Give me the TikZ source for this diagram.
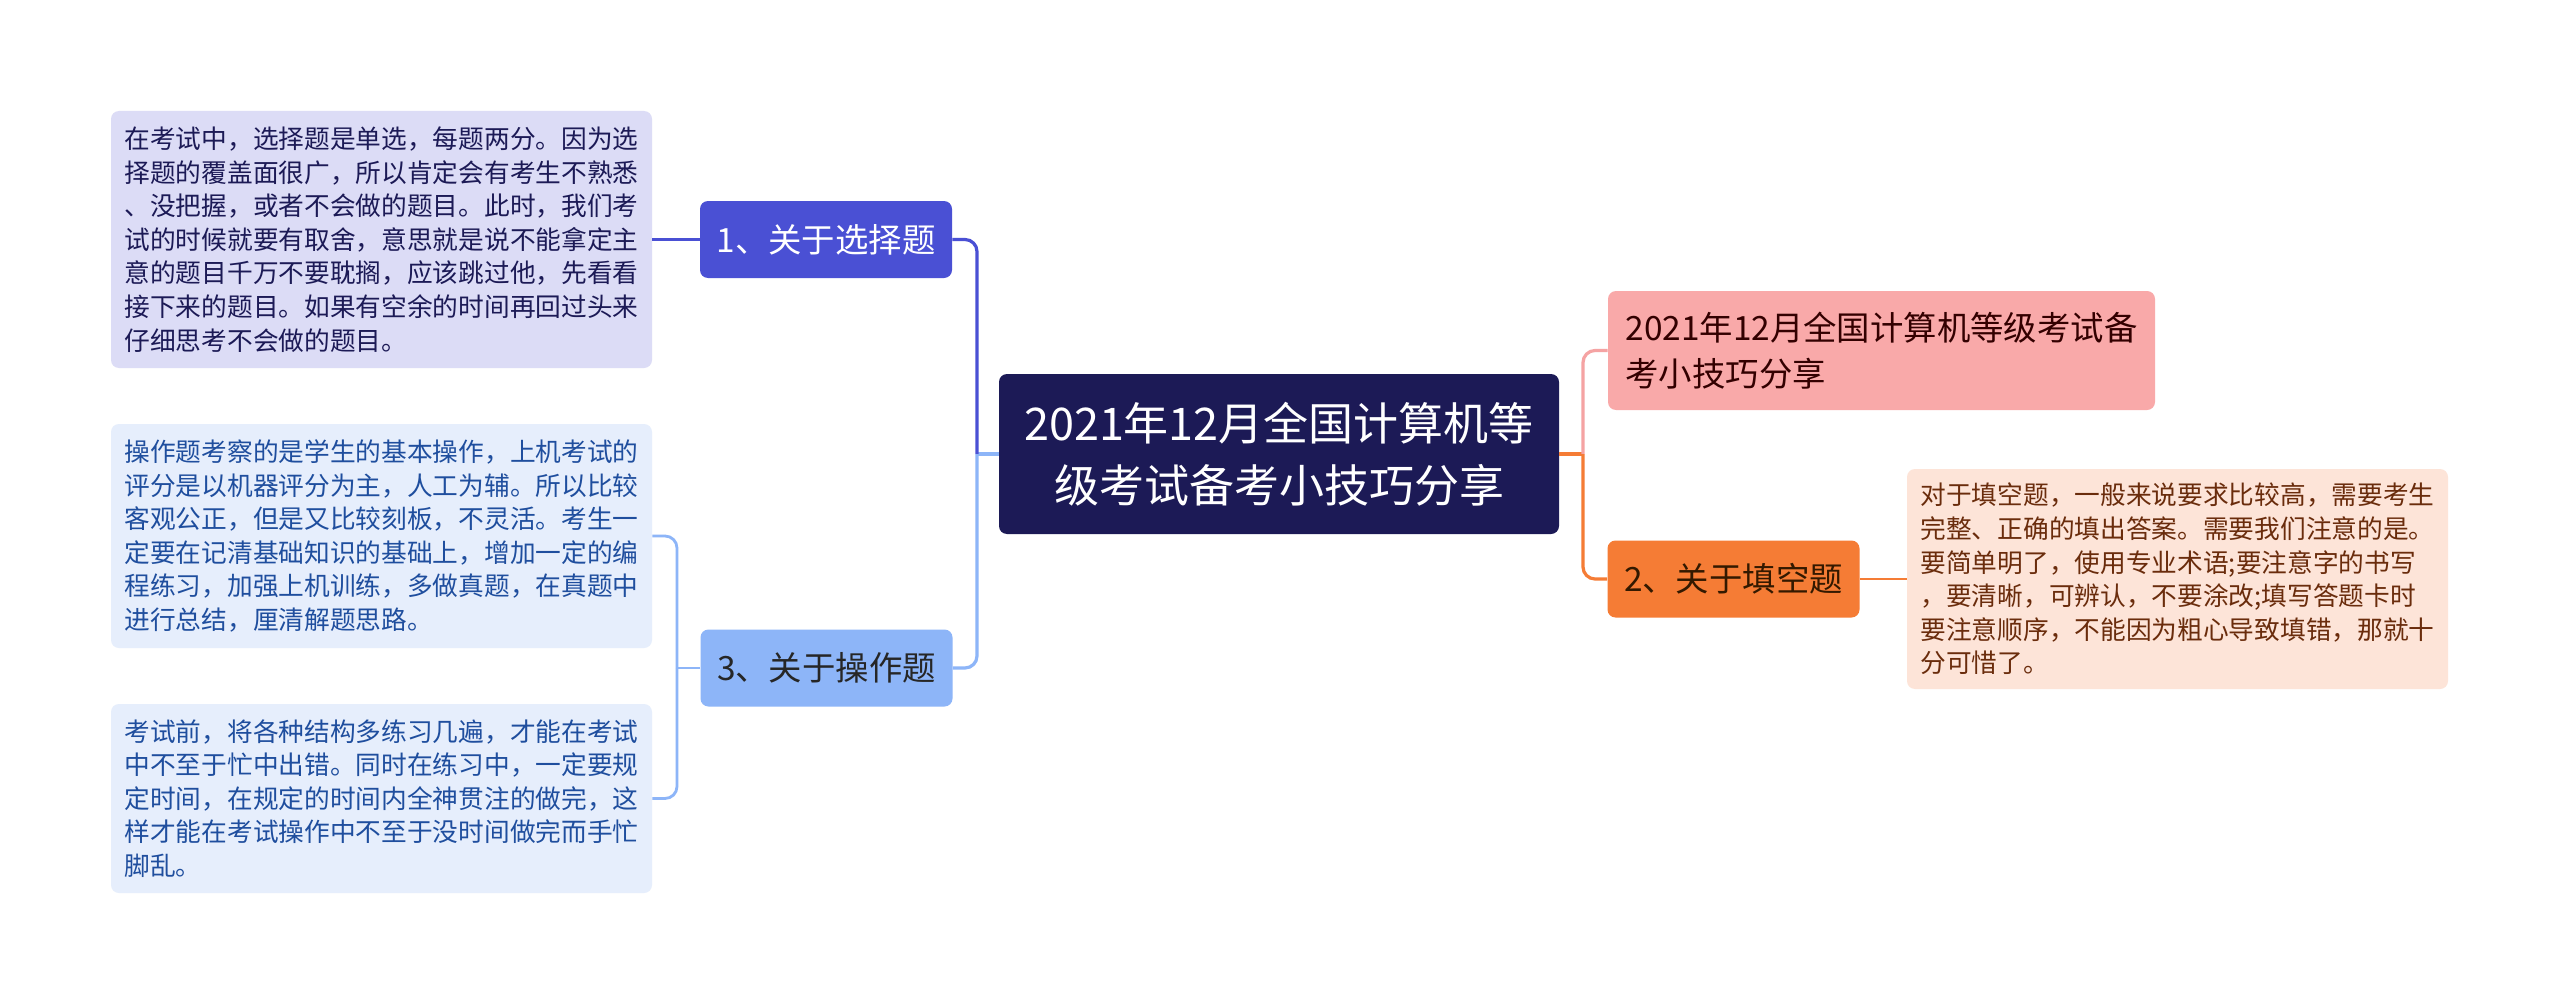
\documentclass[tikz,border=0pt]{standalone}
\usepackage{fontspec}
\usepackage{tikz}

\newfontfamily\cjk{Noto Sans CJK SC}

\definecolor{navy}{HTML}{1C1A56}
\definecolor{indigo}{HTML}{4A50D4}
\definecolor{lavender}{HTML}{DCDCF6}
\definecolor{skyblue}{HTML}{8DB5F8}
\definecolor{paleblue}{HTML}{E6EEFC}
\definecolor{inkblue}{HTML}{1F4E9E}
\definecolor{rose}{HTML}{F9A9A9}
\definecolor{roseline}{HTML}{F5A3A3}
\definecolor{tangerine}{HTML}{F57C35}
\definecolor{peach}{HTML}{FDE4D8}
\definecolor{rust}{HTML}{6A2C0C}

\begin{document}
\begin{tikzpicture}[x=0.5pt, y=-0.5pt,
    box/.style={rounded corners=4pt, inner sep=0pt},
    topic/.style={box, minimum width=126pt, minimum height=38.5pt,
        font={\cjk\fontsize{16.7pt}{23pt}\selectfont}},
    detail/.style={box, align=left, text width=257pt, minimum width=270.5pt,
        font={\cjk\fontsize{12.85pt}{16.8pt}\selectfont}},
    link/.style={line width=1.6pt, rounded corners=6pt},
    sublink/.style={line width=1.4pt, rounded corners=6pt}]

    \useasboundingbox[fill=white] (0,0) rectangle (2560,1006);

    % Mitte
    \node[box, fill=navy, text=white, align=center, minimum width=280pt, minimum height=80pt,
        font={\cjk\fontsize{22.5pt}{31pt}\selectfont}] (c) at (1279,454)
        {2021年12月全国计算机等\\级考试备考小技巧分享};

    % linke Seite
    \node[topic, fill=indigo, text=white] (n1) at (826,239.5) {1、关于选择题};
    \node[topic, fill=skyblue, text=black!85] (n3) at (826.5,668) {3、关于操作题};

    \node[detail, fill=lavender, text=navy, minimum height=128.5pt] (bA) at (381.5,239.5)
        {在考试中，选择题是单选，每题两分。因为选\\
         择题的覆盖面很广，所以肯定会有考生不熟悉\\
         、没把握，或者不会做的题目。此时，我们考\\
         试的时候就要有取舍，意思就是说不能拿定主\\
         意的题目千万不要耽搁，应该跳过他，先看看\\
         接下来的题目。如果有空余的时间再回过头来\\
         仔细思考不会做的题目。};
    \node[detail, fill=paleblue, text=inkblue, minimum height=112pt] (bB) at (381.5,536)
        {操作题考察的是学生的基本操作，上机考试的\\
         评分是以机器评分为主，人工为辅。所以比较\\
         客观公正，但是又比较刻板，不灵活。考生一\\
         定要在记清基础知识的基础上，增加一定的编\\
         程练习，加强上机训练，多做真题，在真题中\\
         进行总结，厘清解题思路。};
    \node[detail, fill=paleblue, text=inkblue, minimum height=94.5pt] (bC) at (381.5,798.5)
        {考试前，将各种结构多练习几遍，才能在考试\\
         中不至于忙中出错。同时在练习中，一定要规\\
         定时间，在规定的时间内全神贯注的做完，这\\
         样才能在考试操作中不至于没时间做完而手忙\\
         脚乱。};

    % rechte Seite
    \node[topic, fill=rose, text=black!80!red, align=left, minimum width=273.5pt,
        minimum height=59.5pt] (p) at (1881.5,350.5)
        {2021年12月全国计算机等级考试备\\考小技巧分享};
    \node[topic, fill=tangerine, text=black!80!orange] (n2) at (1733.5,579) {2、关于填空题};

    \node[detail, fill=peach, text=rust, minimum height=110pt] (bD) at (2177.5,579)
        {对于填空题，一般来说要求比较高，需要考生\\
         完整、正确的填出答案。需要我们注意的是。\\
         要简单明了，使用专业术语;要注意字的书写\\
         ，要清晰，可辨认，不要涂改;填写答题卡时\\
         要注意顺序，不能因为粗心导致填错，那就十\\
         分可惜了。};

    % Verbindungen links
    \coordinate (lj) at (977,454);
    \draw[link, skyblue] (c.west) -- (lj);
    \draw[link, indigo] (lj) |- (n1.east);
    \draw[link, skyblue] (lj) |- (n3.east);
    \draw[link, indigo] (n1.west) -- (bA.east);

    \coordinate (sj) at (677,668);
    \draw[sublink, skyblue] (n3.west) -- (sj);
    \draw[sublink, skyblue] (sj) |- (bB.east);
    \draw[sublink, skyblue] (sj) |- (bC.east);

    % Verbindungen rechts
    \coordinate (rj) at (1583,454);
    \draw[link, tangerine] (c.east) -- (rj);
    \draw[link, roseline] (rj) |- (p.west);
    \draw[link, tangerine] (rj) |- (n2.west);
    \draw[sublink, tangerine] (n2.east) -- (bD.west);
\end{tikzpicture}
\end{document}
